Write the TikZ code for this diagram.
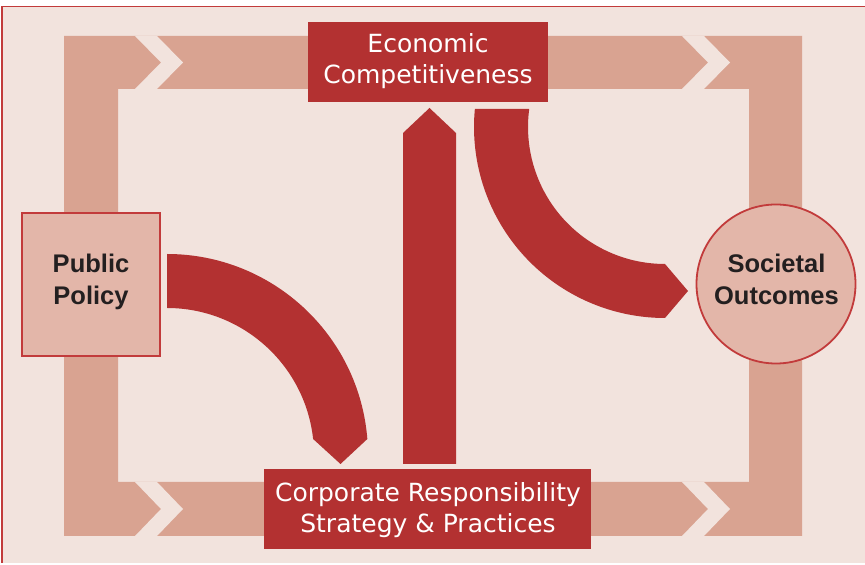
\documentclass[tikz,border=0pt]{standalone}
\usepackage{fontspec}
\setmainfont{DejaVu Sans}
\newfontfamily\labelsans{Liberation Sans}
\definecolor{panelpink}{HTML}{F2E3DD}
\definecolor{loopband}{HTML}{D9A391}
\definecolor{flowred}{HTML}{B33131}
\definecolor{policyfill}{HTML}{E3B6A9}
\definecolor{edgered}{HTML}{C23B3B}
\definecolor{darktxt}{HTML}{231F20}
\begin{document}
\begin{tikzpicture}[x=1pt,y=1pt,
  flow/.style={fill=flowred},
  gapmark/.style={fill=panelpink},
  redbox/.style={fill=flowred, inner sep=0pt, minimum width=#1, minimum height=80},
  whitelabel/.style={text=white, align=center, inner sep=0pt, font={\fontsize{25}{31}\selectfont}},
  darklabel/.style={text=darktxt, align=center, inner sep=0pt, font={\labelsans\bfseries\fontsize{25.5}{32}\selectfont}}
]
\useasboundingbox (0,0) rectangle (865,565);

% panel and its frame
\fill[panelpink] (2,2) rectangle (865,559);
\draw[edgered, line width=1.5pt] (2,2) -- (2,558.5) -- (865,558.5);

% the loop band around the panel
\fill[loopband, even odd rule] (64,29) rectangle (802,529) (118,83) rectangle (749,476);

% chevron cuts along the top and bottom runs of the band
\foreach \cx in {135,682}{
  \fill[gapmark] (\cx,529) -- (\cx+22,529) -- (\cx+48,502.5) -- (\cx+22,476) -- (\cx,476) -- (\cx+26,502.5) -- cycle;
  \fill[gapmark] (\cx,83) -- (\cx+22,83) -- (\cx+48,56) -- (\cx+22,29) -- (\cx,29) -- (\cx+26,56) -- cycle;
}

% boxes
\node[redbox=240] (econ) at (428,503) {};
\node[whitelabel] (econtext) at (428,504) {Economic\\Competitiveness};

\node[redbox=327] (corp) at (427.5,56) {};
\node[whitelabel] (corptext) at (428,55) {Corporate Responsibility\\Strategy \& Practices};

\node[draw=edgered, line width=1.7pt, fill=policyfill, inner sep=0pt,
      minimum width=138, minimum height=143] (pub) at (91,280.5) {};
\node[darklabel] (pubtext) at (91,282.75) {Public\\Policy};

\node[circle, draw=edgered, line width=1.8pt, fill=policyfill, inner sep=0pt,
      minimum size=159] (soc) at (776,281) {};
\node[darklabel] (soctext) at (776.5,285.4) {Societal\\Outcomes};

% anchor points of the block arrows
\coordinate (polcentre) at (167,110);
\coordinate (econcentre) at (665,438);
\coordinate (poltip) at (340.5,101);
\coordinate (soctip) at (688,274);
\coordinate (risebase) at (429.5,101);
\coordinate (risetip) at (429.5,457);

% Public Policy -> Corporate Responsibility
\fill[flow] ([shift={(polcentre)}]90:201) arc[start angle=90, end angle=4.57, radius=201]
  -- (poltip) -- ([shift={(polcentre)}]6.25:147) arc[start angle=6.25, end angle=90, radius=147] -- cycle;

% Corporate Responsibility -> Economic Competitiveness
\fill[flow] ([xshift=-26.5]risebase) -- ([xshift=-26.5,yshift=-25]risetip) -- (risetip)
  -- ([xshift=26.5,yshift=-25]risetip) -- ([xshift=26.5]risebase) -- cycle;

% Economic Competitiveness -> Societal Outcomes
\fill[flow] ([shift={(econcentre)}]174.59:191) arc[start angle=174.59, end angle=270, radius=191]
  -- (soctip) -- ([shift={(econcentre)}]270:137) arc[start angle=270, end angle=172.45, radius=137] -- cycle;
\end{tikzpicture}
\end{document}
